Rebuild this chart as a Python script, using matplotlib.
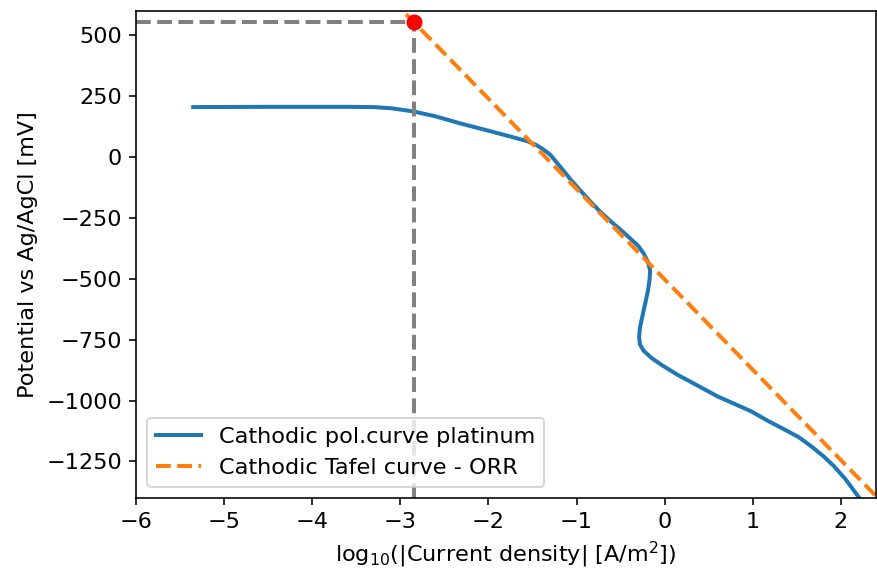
import matplotlib
matplotlib.use("Agg")
import matplotlib.pyplot as plt

plt.rcParams["font.size"] = 11.2

# Cathodic polarization curve (platinum)
pol_logi = [-5.35, -4.5, -3.6, -3.3, -3.1, -2.85, -2.6, -2.32, -2.0, -1.75, -1.56, -1.45,
            -1.38, -1.3, -1.18, -1.05, -0.95, -0.85, -0.73, -0.6, -0.48, -0.38, -0.3,
            -0.24, -0.19, -0.165, -0.17, -0.19, -0.22, -0.25, -0.28, -0.29, -0.28, -0.24,
            -0.15, -0.03, 0.15, 0.33, 0.6, 0.8, 0.98, 1.18, 1.36, 1.52, 1.66, 1.8, 1.92,
            2.05, 2.22]
pol_E = [205, 206, 206, 205, 200, 187, 167, 138, 108, 84, 65, 48,
         32, 10, -42, -100, -140, -180, -225, -268, -305, -338, -365,
         -395, -430, -465, -500, -550, -600, -650, -700, -740, -770, -795,
         -825, -855, -895, -930, -983, -1015, -1044, -1085, -1119, -1150, -1187, -1228, -1269,
         -1322, -1405]

# Tafel line (ORR) endpoints
tafel_logi = [-3.2, 2.5]
tafel_E = [685, -1430]

# Intersection point
pt_logi = -2.85
pt_E = 555

fig = plt.figure(figsize=(877/144, 573/144), dpi=144)
ax = fig.add_axes([0.155, 0.131, 0.844, 0.850])

ax.plot(pol_logi, pol_E, color="#1f77b4", lw=2, label="Cathodic pol.curve platinum")
ax.plot(tafel_logi, tafel_E, color="#ff7f0e", lw=2, ls="--", label="Cathodic Tafel curve - ORR")
ax.plot([-6, pt_logi], [pt_E, pt_E], color="grey", lw=2, ls="--")
ax.plot([pt_logi, pt_logi], [-1400, pt_E], color="grey", lw=2, ls="--")
ax.plot([pt_logi], [pt_E], "o", color="red", ms=7, zorder=5)

ax.set_xlim(-6, 2.4)
ax.set_ylim(-1400, 600)
ax.set_xticks([-6, -5, -4, -3, -2, -1, 0, 1, 2])
ax.set_yticks([-1250, -1000, -750, -500, -250, 0, 250, 500])
ax.set_xlabel(r"log$_{10}$(|Current density| [A/m$^2$])")
ax.set_ylabel("Potential vs Ag/AgCl [mV]")
ax.legend(loc="lower left")

fig.savefig("out.png", dpi=144)
